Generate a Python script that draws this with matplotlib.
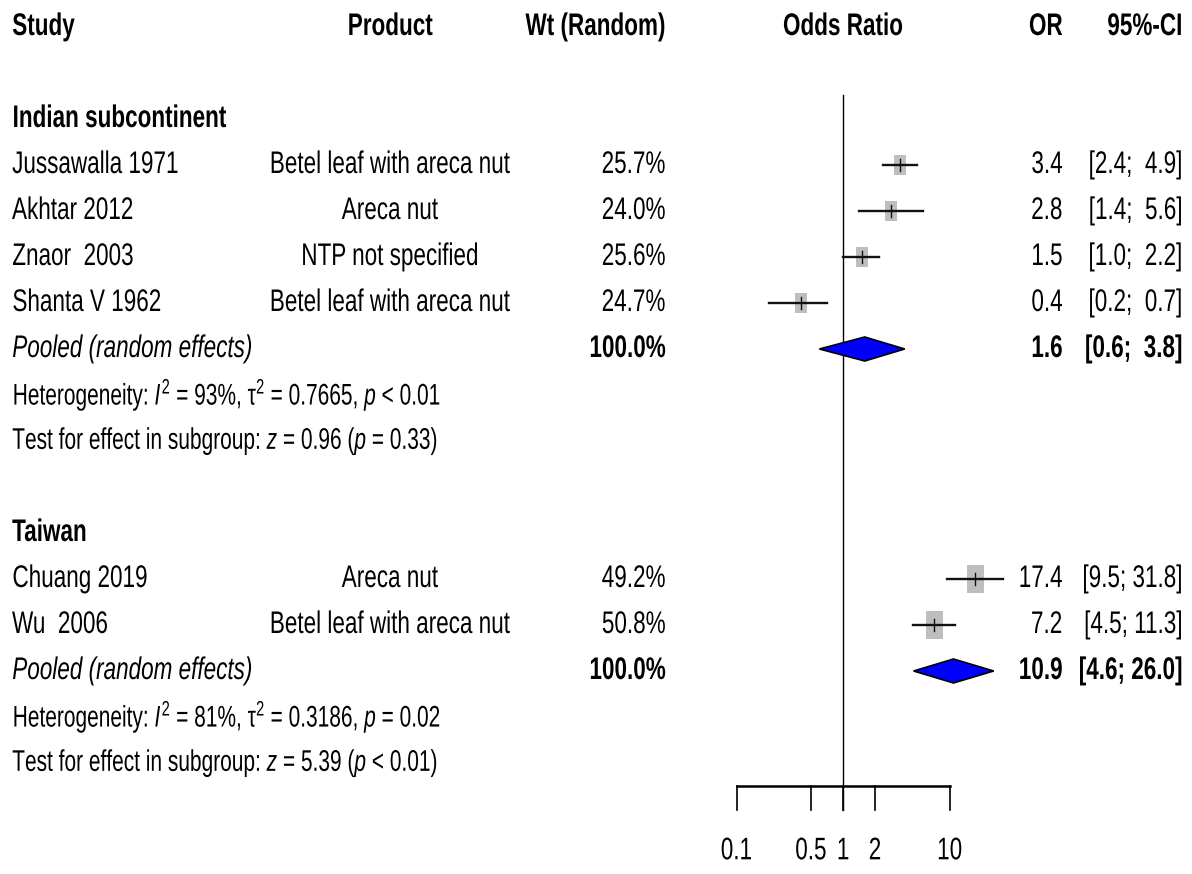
import numpy as np
import matplotlib
matplotlib.use("Agg")
import matplotlib.pyplot as plt
from matplotlib.patches import Rectangle, Polygon
from matplotlib.patheffects import AbstractPathEffect
from matplotlib.text import Text
from matplotlib.transforms import Affine2D, Bbox

# ── Fonts ──────────────────────────────────────────────────────
plt.rcParams["font.family"] = ["Liberation Sans", "DejaVu Sans"]
plt.rcParams["mathtext.fontset"] = "custom"
plt.rcParams["mathtext.rm"] = "Liberation Sans"
plt.rcParams["mathtext.it"] = "Liberation Sans:italic"
plt.rcParams["mathtext.bf"] = "Liberation Sans:bold"
FS = 22.5
FS_STAT = 21.5
SX = 0.72   # horizontal squeeze for the narrow lettering

# ── Data ───────────────────────────────────────────────────────
groups = ["Indian subcontinent", "Taiwan"]

studies_ind = ["Jussawalla 1971", "Akhtar 2012", "Znaor  2003", "Shanta V 1962"]
products_ind = ["Betel leaf with areca nut", "Areca nut", "NTP not specified",
                "Betel leaf with areca nut"]
weights_ind = [25.7, 24.0, 25.6, 24.7]
or_ind = [3.4, 2.8, 1.5, 0.4]
lo_ind = [2.4, 1.4, 1.0, 0.2]
hi_ind = [4.9, 5.6, 2.2, 0.7]
pooled_ind = (1.6, 0.6, 3.8)
het_ind = r"Heterogeneity: $I^2$ = 93%, τ$^2$ = 0.7665, $p$ < 0.01"
test_ind = r"Test for effect in subgroup: $z$ = 0.96 ($p$ = 0.33)"

studies_tw = ["Chuang 2019", "Wu  2006"]
products_tw = ["Areca nut", "Betel leaf with areca nut"]
weights_tw = [49.2, 50.8]
or_tw = [17.4, 7.2]
lo_tw = [9.5, 4.5]
hi_tw = [31.8, 11.3]
pooled_tw = (10.9, 4.6, 26.0)
het_tw = r"Heterogeneity: $I^2$ = 81%, τ$^2$ = 0.3186, $p$ = 0.02"
test_tw = r"Test for effect in subgroup: $z$ = 5.39 ($p$ < 0.01)"

tick_vals = [0.1, 0.5, 1, 2, 10]
tick_labels = ["0.1", "0.5", "1", "2", "10"]

ANCHOR = {"left": 0.0, "center": 0.5, "right": 1.0}


class Narrow(AbstractPathEffect):
    """Squeeze glyphs horizontally about the left/centre/right edge."""

    def __init__(self, sx, anchor):
        super().__init__()
        self.sx = sx
        self.anchor = anchor

    def draw_path(self, renderer, gc, tpath, affine, rgbFace=None):
        ext = tpath.get_extents()
        x0 = ext.x0 + self.anchor * ext.width
        squeeze = Affine2D().translate(-x0, 0).scale(self.sx, 1).translate(x0, 0)
        renderer.draw_path(gc, tpath, squeeze + affine, rgbFace)


class NarrowText(Text):
    """Text drawn condensed; its extent is squeezed the same way."""

    def __init__(self, *args, sx=SX, **kwargs):
        super().__init__(*args, **kwargs)
        self._sx = sx
        self.set_path_effects([Narrow(sx, ANCHOR[self.get_ha()])])

    def get_window_extent(self, renderer=None, dpi=None):
        bb = super().get_window_extent(renderer, dpi)
        xa = bb.x0 + ANCHOR[self.get_ha()] * bb.width
        return Bbox([[xa + (bb.x0 - xa) * self._sx, bb.y0],
                     [xa + (bb.x1 - xa) * self._sx, bb.y1]])


# ── Layout (pixels / rows) ─────────────────────────────────────
W, H = 1192, 874
ROW0, ROWH = 27, 46          # pixel y of row 0, row height
X1, DEC = 843, 106.5         # pixel x of OR = 1, pixels per decade
row_top = -ROW0 / ROWH
row_bot = (H - ROW0) / ROWH

x_study, x_prod, x_wt, x_or, x_ci = 12, 390, 666, 1063, 1183

fig = plt.figure(figsize=(W / 100, H / 100), dpi=100)
ax = fig.add_axes([0, 0, 1, 1])
ax.set_xlim(0, W)
ax.set_ylim(row_bot, row_top)
ax.axis("off")

fa = fig.add_axes([0, 0, 1, 1], facecolor="none")
fa.set_xscale("log")
fa.set_xlim(10 ** (-X1 / DEC), 10 ** ((W - X1) / DEC))
fa.set_ylim(row_bot, row_top)
fa.axis("off")


def txt(x, y, s, ha="left", weight="normal", style="normal", target=None,
        size=FS, sx=SX):
    target = target or ax
    t = NarrowText(x, y, s, ha=ha, va="center", fontsize=size,
                   fontweight=weight, fontstyle=style, sx=sx)
    target.add_artist(t)


def ci_str(lo, hi, width):
    return "[{:.1f}; {}]".format(lo, "{:.1f}".format(hi).rjust(width))


# headers
txt(x_study, 0, "Study", weight="bold")
txt(x_prod, 0, "Product", ha="center", weight="bold")
txt(x_wt, 0, "Wt (Random)", ha="right", weight="bold")
txt(X1, 0, "Odds Ratio", ha="center", weight="bold")
txt(x_or, 0, "OR", ha="right", weight="bold")
txt(x_ci, 0, "95%-CI", ha="right", weight="bold")


def draw_group(start, name, studies, products, weights, ors, los, his,
               pooled, het, test, width):
    txt(x_study, start, name, weight="bold")
    for i, (s, p, w, o, lo, hi) in enumerate(zip(studies, products, weights,
                                                  ors, los, his)):
        y = start + 1 + i
        txt(x_study, y, s)
        txt(x_prod, y, p, ha="center")
        txt(x_wt, y, f"{w:.1f}%", ha="right")
        txt(x_or, y, f"{o:.1f}", ha="right")
        txt(x_ci, y, ci_str(lo, hi, width), ha="right")
        # box sized by weight
        d = 1.2 * np.sqrt(w) / DEC
        bh = 4.0 * np.sqrt(w) / ROWH
        fa.add_patch(Rectangle((o * 10 ** -d, y - bh / 2),
                               o * (10 ** d - 10 ** -d), bh,
                               facecolor="#BEBEBE", edgecolor="none", zorder=2))
        fa.plot([lo, hi], [y, y], color="#111111", lw=1.7, zorder=3)
        fa.plot([o, o], [y - 0.13, y + 0.13], color="#111111", lw=1.0, zorder=3)
    y = start + 1 + len(studies)
    txt(x_study, y, "Pooled (random effects)", style="italic")
    txt(x_wt, y, "100.0%", ha="right", weight="bold")
    est, lo, hi = pooled
    txt(x_or, y, f"{est:.1f}", ha="right", weight="bold")
    txt(x_ci, y, ci_str(lo, hi, width), ha="right", weight="bold")
    dh = 12 / ROWH
    fa.add_patch(Polygon([(lo, y), (est, y - dh), (hi, y), (est, y + dh)],
                         closed=True, facecolor="#0000FF", edgecolor="black",
                         lw=1.2, zorder=4))
    txt(x_study, y + 1, het, size=FS_STAT, sx=0.70)
    txt(x_study, y + 2, test, size=FS_STAT, sx=0.70)


draw_group(2, groups[0], studies_ind, products_ind, weights_ind, or_ind,
           lo_ind, hi_ind, pooled_ind, het_ind, test_ind, 4)
draw_group(11, groups[1], studies_tw, products_tw, weights_tw, or_tw,
           lo_tw, hi_tw, pooled_tw, het_tw, test_tw, 4)

# reference line at OR = 1
axis_y, tick_end = 16.5, 17.02
fa.plot([1, 1], [1.48, tick_end], color="black", lw=1.0, zorder=1)

# x axis
fa.plot([tick_vals[0], tick_vals[-1]], [axis_y, axis_y], color="black", lw=1.8)
for v, lab in zip(tick_vals, tick_labels):
    fa.plot([v, v], [axis_y, tick_end], color="black", lw=1.2)
    txt(v, 17.92, lab, ha="center", target=fa)

fig.savefig("out.png", dpi=100)
